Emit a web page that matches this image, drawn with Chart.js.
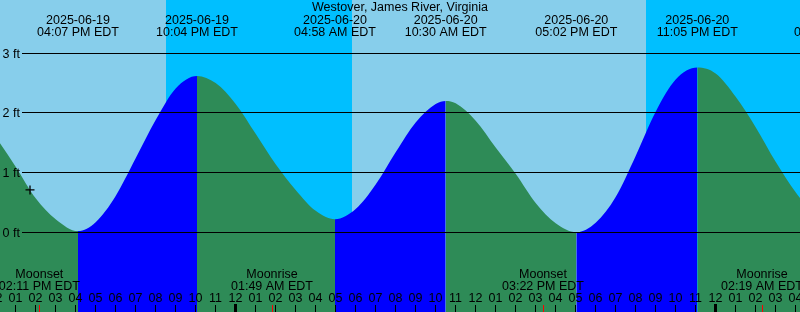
<!DOCTYPE html>
<html>
<head>
<meta charset="utf-8">
<script src="https://cdn.jsdelivr.net/npm/chart.js@4.4.1/dist/chart.umd.min.js"></script>
<style>
  html, body { margin: 0; padding: 0; background: #87ceeb; }
  #wrap { width: 800px; height: 312px; }
</style>
</head>
<body>
<div id="wrap"><canvas id="tideChart" width="800" height="312"></canvas></div>
<script>
const title = "Westover, James River, Virginia";

// sample hours are counted from 2025-06-19 00:00 EDT
const sampleHours = [12, 13, 14, 15, 17, 18, 19, 20, 21, 23, 24, 25, 26, 27, 28,
  30, 31, 32, 33, 34, 35, 36, 37, 38, 39, 40, 42, 43, 44, 45, 46, 48, 49, 50, 51, 52, 53];
const sampleLevels = [1.60, 1.10, 0.57, 0.22, 0.17, 0.61, 1.24, 1.88, 2.41, 2.50, 2.15, 1.65, 1.14, 0.71, 0.36,
  0.39, 0.80, 1.34, 1.84, 2.15, 2.16, 1.87, 1.42, 0.98, 0.49, 0.15, 0.16, 0.59, 1.28, 2.02, 2.56, 2.66, 2.27, 1.76, 1.18, 0.67, 0.28];

// high / low water
const extremeDates = ["2025-06-19", "2025-06-19", "2025-06-20", "2025-06-20", "2025-06-20", "2025-06-20", "2025-06-21"];
const extremeTimes = ["04:07 PM", "10:04 PM", "04:58 AM", "10:30 AM", "05:02 PM", "11:05 PM", "05:58 AM"];
const extremeLevels = [0.02, 2.62, 0.22, 2.20, 0.00, 2.76, 0.12];

// moon
const moonNames = ["Moonset", "Moonrise", "Moonset", "Moonrise"];
const moonDates = ["2025-06-19", "2025-06-20", "2025-06-20", "2025-06-21"];
const moonTimes = ["02:11 PM", "01:49 AM", "03:22 PM", "02:19 AM"];

// night bands (sunset -> sunrise)
const sunsetDates = ["2025-06-19", "2025-06-20"];
const sunsetTimes = ["08:31 PM", "08:31 PM"];
const sunriseDates = ["2025-06-20", "2025-06-21"];
const sunriseTimes = ["05:49 AM", "05:50 AM"];

// current level marker
const nowDate = "2025-06-19";
const nowTime = "01:43 PM";
const nowLevel = 0.71;

const levelTicks = [0, 1, 2, 3];
const tz = "EDT";

const DAY = "#87ceeb";
const NIGHT = "#00bfff";
const FLOOD = "#0000ff";
const EBB = "#2e8b57";
const FONT = '12.5px "Liberation Sans", Arial, sans-serif';

function toHour(date, time) {
  const day = parseInt(date.slice(8, 10), 10) - 19;
  let [hh, mm] = time.slice(0, 5).split(":").map(Number);
  const pm = time.endsWith("PM");
  if (hh === 12) hh = 0;
  if (pm) hh += 12;
  return day * 24 + hh + mm / 60;
}

const startHour = toHour("2025-06-19", "12:13 PM");
const endHour = startHour + 40;

const extremeHours = extremeDates.map((d, i) => toHour(d, extremeTimes[i]));
const tidePoints = sampleHours.map((h, i) => ({ x: h, y: sampleLevels[i] }))
  .concat(extremeHours.map((h, i) => ({ x: h, y: extremeLevels[i] })))
  .sort((a, b) => a.x - b.x);

const decor = {
  id: "decor",
  beforeDraw(chart) {
    const { ctx, chartArea: a, scales: { x } } = chart;
    ctx.save();
    ctx.fillStyle = DAY;
    ctx.fillRect(a.left, a.top, a.width, a.height);
    ctx.fillStyle = NIGHT;
    sunsetDates.forEach((d, i) => {
      const x0 = x.getPixelForValue(toHour(d, sunsetTimes[i]));
      const x1 = x.getPixelForValue(toHour(sunriseDates[i], sunriseTimes[i]));
      ctx.fillRect(Math.round(x0), a.top, Math.round(x1) - Math.round(x0), a.height);
    });
    ctx.restore();
  },
  afterDatasetsDraw(chart) {
    const { ctx, chartArea: a, scales: { x, y } } = chart;
    ctx.save();
    ctx.font = FONT;
    ctx.fillStyle = "#000";

    // level lines
    ctx.textAlign = "left";
    levelTicks.forEach((v) => {
      const py = Math.floor(y.getPixelForValue(v));
      ctx.fillRect(22, py, a.right - 22, 1);
      ctx.fillText(v + " ft", 2.5, py + 4.8);
    });

    ctx.textAlign = "center";
    ctx.fillText(title, 400, 11);

    // high / low labels
    extremeHours.forEach((h, i) => {
      const px = x.getPixelForValue(h);
      ctx.fillText(extremeDates[i], px, 24);
      ctx.fillText(extremeTimes[i] + " " + tz, px, 36);
    });

    // hour ticks
    for (let h = Math.floor(startHour); h <= Math.ceil(endHour); h++) {
      const px = Math.floor(x.getPixelForValue(h));
      const lbl = String(h % 12 || 12).padStart(2, "0");
      ctx.fillText(lbl, px + 0.5, 301.5);
      if (h % 24 === 0) ctx.fillRect(px - 1, 304, 3, 8);
      else ctx.fillRect(px, 305, 1, 7);
    }

    // moon events
    moonNames.forEach((n, i) => {
      const px = x.getPixelForValue(toHour(moonDates[i], moonTimes[i]));
      ctx.fillStyle = "#000";
      ctx.fillText(n, px, 278.3);
      ctx.fillText(moonTimes[i] + " " + tz, px, 290);
      ctx.fillStyle = "#ff0000";
      ctx.fillRect(Math.floor(px), 305, 1, 7);
    });
    ctx.restore();
  }
};

new Chart(document.getElementById("tideChart"), {
  type: "line",
  data: {
    datasets: [
      {
        type: "scatter",
        data: [{ x: toHour(nowDate, nowTime), y: nowLevel }],
        pointStyle: "cross",
        pointRadius: 4.5,
        borderColor: "#000",
        borderWidth: 1.3,
        order: 0,
      },
      {
        data: tidePoints,
        borderColor: "rgba(0,0,0,0)",
        borderWidth: 0,
        backgroundColor: EBB,
        fill: "start",
        pointRadius: 0,
        cubicInterpolationMode: "monotone",
        segment: {
          backgroundColor: (c) => (c.p1.parsed.y > c.p0.parsed.y ? FLOOD : EBB),
        },
        order: 1,
      },
    ],
  },
  options: {
    responsive: false,
    animation: false,
    devicePixelRatio: 1,
    layout: { padding: 0, autoPadding: false },
    plugins: {
      legend: { display: false },
      tooltip: { enabled: false },
    },
    scales: {
      x: { type: "linear", min: startHour, max: endHour, display: false },
      y: { min: -1.335, max: 3.891, display: false },
    },
  },
  plugins: [decor],
});
</script>
</body>
</html>
